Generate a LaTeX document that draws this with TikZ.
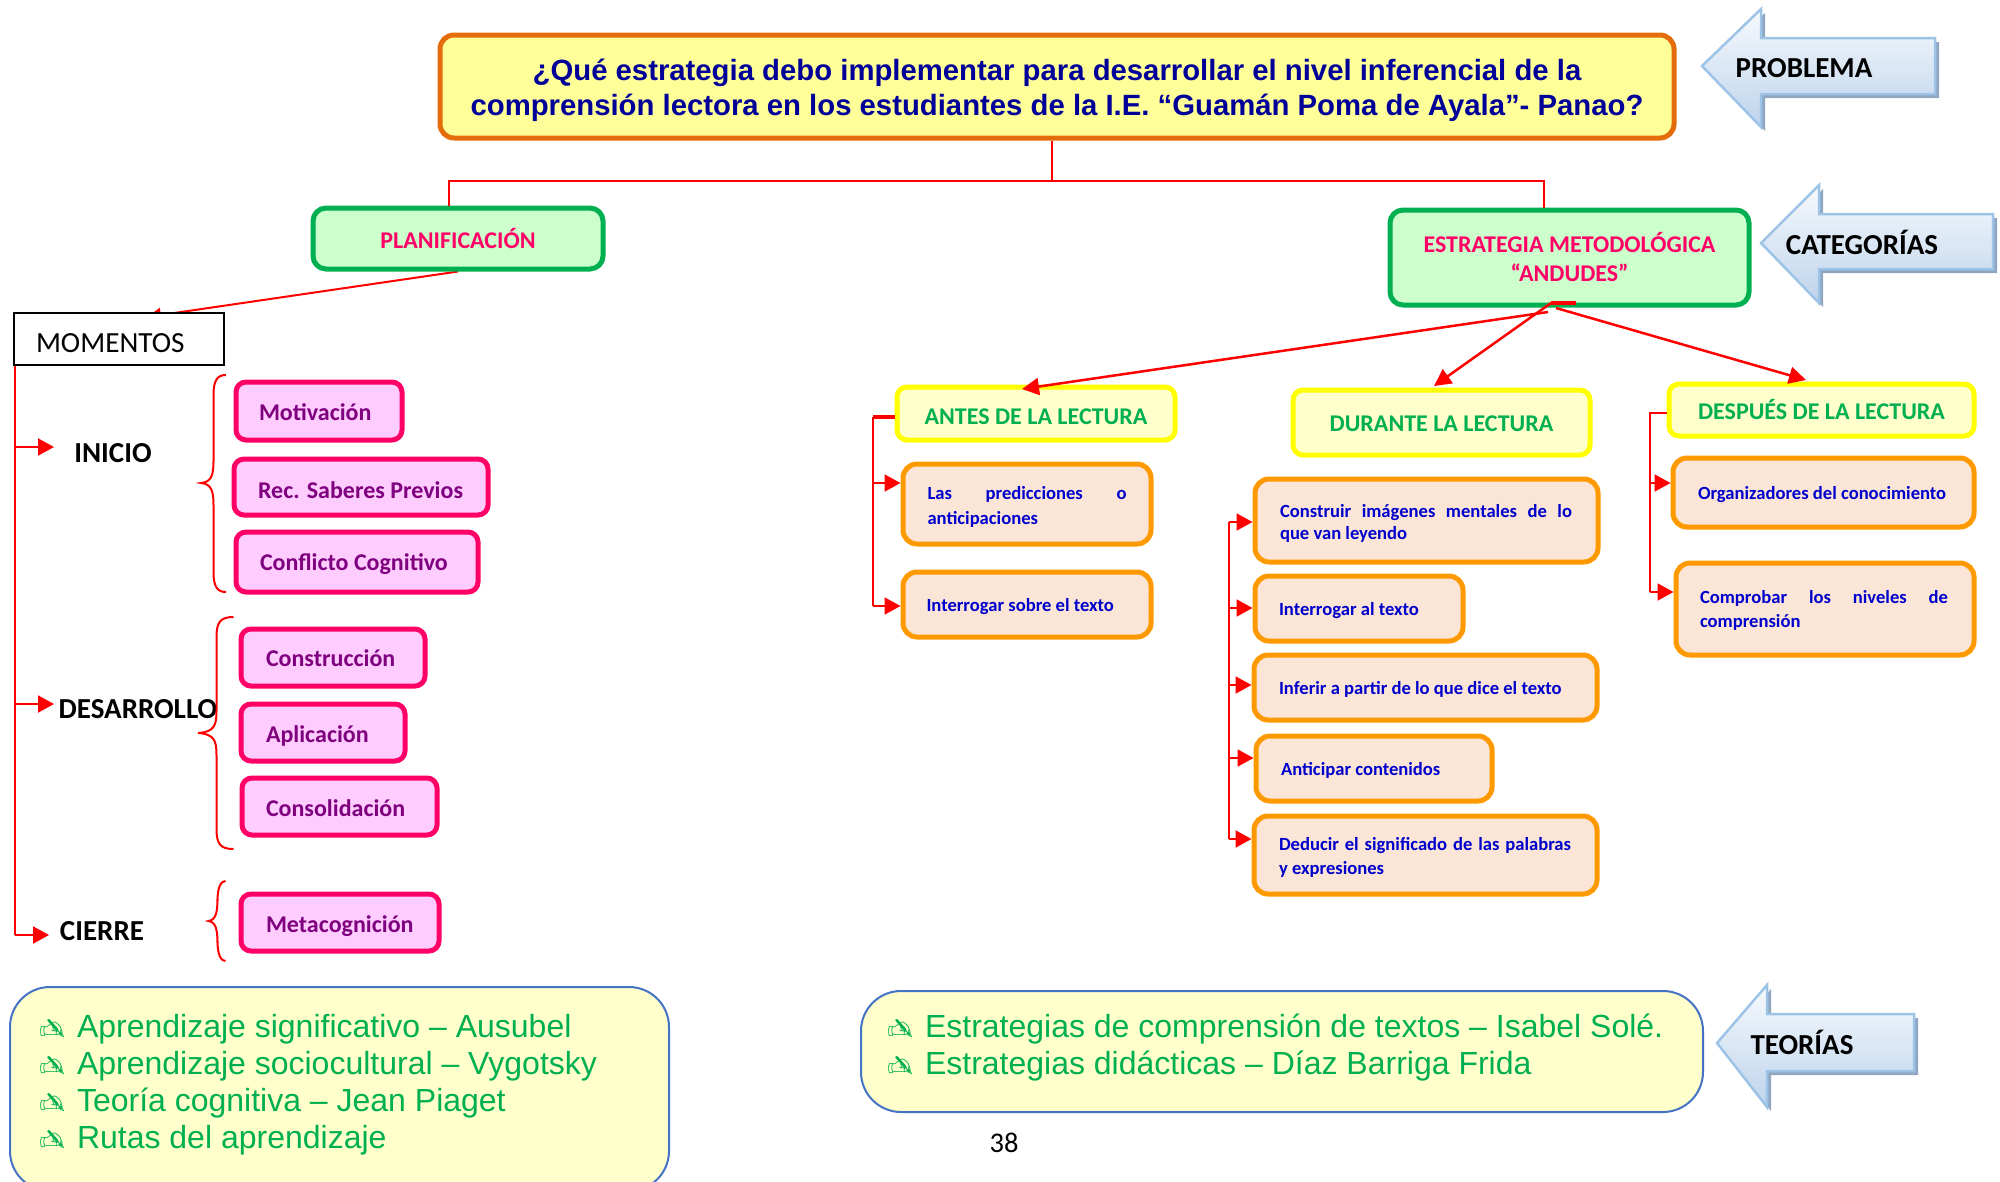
\documentclass[tikz,border=0pt]{standalone}
\usepackage{fontspec}
\setmainfont{Carlito}
\newfontfamily\arialf{Liberation Sans}
\newfontfamily\djv{DejaVu Sans}
\usetikzlibrary{arrows.meta,backgrounds}
\definecolor{titlefill}{HTML}{FFFF99}
\definecolor{titleedge}{HTML}{E46C0A}
\definecolor{titleink}{HTML}{000099}
\definecolor{greenfill}{HTML}{CCFFCC}
\definecolor{greenedge}{HTML}{00B050}
\definecolor{hotpink}{HTML}{FF0066}
\definecolor{pinkfill}{HTML}{FFCCFF}
\definecolor{purpleink}{HTML}{7F007F}
\definecolor{paleyellow}{HTML}{FFFFCC}
\definecolor{brightyellow}{HTML}{FFFF00}
\definecolor{peach}{HTML}{FBE5D6}
\definecolor{orangeedge}{HTML}{FF9900}
\definecolor{blueink}{HTML}{0000CC}
\definecolor{bluerim}{HTML}{4472C4}
\definecolor{arrowrim}{HTML}{9DC3E6}
\definecolor{arrowshadow}{HTML}{8FA7C1}
\definecolor{arrowtop}{HTML}{F7FAFD}
\definecolor{arrowbot}{HTML}{BDD3EC}
\definecolor{redline}{HTML}{FF0000}
\tikzset{
  basebox/.style={rectangle,inner sep=0pt,outer sep=2.5pt,line width=5pt},
  titlebox/.style={basebox,draw=titleedge,fill=titlefill,rounded corners=14pt,text=titleink,align=center,
    font=\arialf\bfseries\fontsize{29.3}{34.5}\selectfont},
  catbox/.style={basebox,draw=greenedge,fill=greenfill,rounded corners=13pt,text=hotpink,align=center,
    font=\bfseries\fontsize{24}{29}\selectfont},
  pinkbox/.style={basebox,draw=hotpink,fill=pinkfill,rounded corners=10pt,text=purpleink,align=left,
    font=\bfseries\fontsize{24}{28}\selectfont},
  headbox/.style={basebox,draw=brightyellow,fill=paleyellow,rounded corners=10pt,text=greenedge,align=center,
    font=\bfseries\fontsize{24}{28}\selectfont},
  stepbox/.style={basebox,draw=orangeedge,fill=peach,rounded corners=14pt,text=blueink,align=left,
    font=\bfseries\fontsize{18.6}{22}\selectfont},
  theorybox/.style={basebox,outer sep=1pt,line width=2pt,draw=bluerim,fill=paleyellow,rounded corners=40pt,text=greenedge,align=left,
    font=\arialf\fontsize{32}{37}\selectfont},
  momentbox/.style={basebox,outer sep=1pt,line width=2pt,draw=black,fill=white,align=left,font=\fontsize{29.2}{34}\selectfont},
  stagelabel/.style={inner sep=0pt,font=\bfseries\fontsize{29}{34}\selectfont,text=black},
  arrowlabel/.style={inner sep=0pt,font=\bfseries\fontsize{29}{34}\selectfont,text=black},
  pagelabel/.style={inner sep=0pt,font=\fontsize{28.5}{34}\selectfont,text=black},
  blockshade/.style={draw=arrowrim,line width=2.5pt,top color=arrowtop,bottom color=arrowbot,line join=miter},
  blockshadow/.style={fill=arrowshadow},
  redthin/.style={draw=redline,line width=2pt},
  redbar/.style={draw=redline,line width=3.5pt},
  redarrow/.style={draw=redline,line width=2pt,-{Triangle[length=16pt,width=17pt]}},
  redslant/.style={draw=redline,line width=2.5pt,-{Triangle[length=17pt,width=17pt]}},
  bracestyle/.style={draw=redline,line width=2pt},
}
% centred text box: style, name, x1, y1, x2, y2, text
\newcommand\cbx[7]{%
  \pgfmathsetmacro\bxw{#5-#3-2}\pgfmathsetmacro\bxh{#6-#4-2}%
  \pgfmathsetmacro\bxx{(#3+#5)/2}\pgfmathsetmacro\bxy{(#4+#6)/2}%
  \node[#1,minimum width=\bxw pt,minimum height=\bxh pt] (#2) at (\bxx,\bxy) {#7};}
% text box with a set text width: style, name, x1, y1, x2, y2, side pad, text
\newcommand\lbx[8]{%
  \pgfmathsetmacro\bxw{#5-#3-2}\pgfmathsetmacro\bxh{#6-#4-2}%
  \pgfmathsetmacro\bxt{#5-#3-2*#7}%
  \pgfmathsetmacro\bxx{(#3+#5)/2}\pgfmathsetmacro\bxy{(#4+#6)/2}%
  \node[#1,minimum width=\bxw pt,minimum height=\bxh pt,text width=\bxt pt] (#2) at (\bxx,\bxy) {\spaceskip=0pt\xspaceskip=0pt\relax #8};}
% a trailing negative space lowers centred text by half its amount (several lines)
\newcommand\dn[1]{\par\vspace{-#1pt}}
% single line: puts the baseline a set distance below the box centre
\newcommand\bl[1]{\rule[-8pt]{0pt}{\dimexpr #1pt*2+8pt\relax}}
\newcommand\pen{\makebox[37pt][l]{\raisebox{-3pt}{\reflectbox{\djv\fontsize{31}{31}\selectfont ✍}}}}
\newcommand\jline[2]{\hbox to #1pt{#2}}
% block arrow: tip x,y, head x, head top y, shaft top y, right x, shaft bottom y, head bottom y
\newcommand\blockarrow[8]{%
  \path[blockshadow,shift={(4,4)}] (#1,#2) -- (#3,#4) -- (#3,#5) -- (#6,#5) -- (#6,#7) -- (#3,#7) -- (#3,#8) -- cycle;
  \path[blockshade] (#1,#2) -- (#3,#4) -- (#3,#5) -- (#6,#5) -- (#6,#7) -- (#3,#7) -- (#3,#8) -- cycle;}
% curly bracket: end x, top y, spine x, tip x, tip y, bottom y
\newcommand\curly[6]{%
  \draw[bracestyle] (#1,#2) .. controls (#3+4,#2) and (#3,#2+5) .. (#3,#2+20)
    -- (#3,#5-22) .. controls (#3,#5-8) and (#3-2,#5-1) .. (#4,#5)
    .. controls (#3-2,#5+1) and (#3,#5+8) .. (#3,#5+22)
    -- (#3,#6-20) .. controls (#3,#6-5) and (#3+4,#6) .. (#1,#6);}
\begin{document}
\begin{tikzpicture}[x=1pt,y=-1pt]
\useasboundingbox (0,0) rectangle (2000,1181);
\clip (0,0) rectangle (2000,1181);

% top level
\lbx{titlebox}{title}{439}{34}{1675}{139}{10}{\mbox{¿Qué estrategia debo implementar para desarrollar el nivel inferencial de la}\\\mbox{comprensión lectora en los estudiantes de la I.E. “Guamán Poma de Ayala”- Panao?}\dn{8}}
\cbx{catbox}{plan}{312}{207}{604}{270}{PLANIFICACIÓN}
\cbx{catbox}{estr}{1389}{209}{1750}{306}{ESTRATEGIA METODOLÓGICA\\“ANDUDES”}

\coordinate (hub) at (1052,181);
\coordinate (hubL) at (449,181);
\coordinate (hubR) at (1544,181);
\draw[redthin] (hub |- title.south) -- (hub);
\draw[redthin] (hubL |- plan.north) -- (hubL) -- (hubR) -- (hubR |- estr.north);

% block arrows
\blockarrow{1702}{66}{1761}{9}{38}{1935}{94}{127}
\node[arrowlabel] (lblProblema) at (1804,68) {PROBLEMA};
\blockarrow{1761}{243}{1819}{185}{214}{1993}{269}{303}
\node[arrowlabel] (lblCategorias) at (1862,242) {CATEGORÍAS};
\blockarrow{1717}{1043}{1767}{985}{1014}{1914}{1071}{1107}
\node[arrowlabel] (lblTeorias) at (1802,1042) {TEORÍAS};

% left column
\lbx{momentbox}{momentos}{13}{312}{225}{366}{23}{\bl{17.4}MOMENTOS}
\coordinate (momTip) at (147,317);
\begin{scope}[on background layer]
  \draw[redthin,-{Triangle[length=14pt,width=14pt]}] (plan.south) -- (momTip);
\end{scope}

\node[stagelabel] (inicio) at (113,453) {INICIO};
\node[stagelabel] (desarrollo) at (138,709) {DESARROLLO};
\node[stagelabel] (cierre) at (102,931) {CIERRE};
\coordinate (stemI) at (14.5,447);
\coordinate (stemD) at (14.5,704);
\coordinate (stemC) at (14.5,935);
\draw[redthin] (momentos.south -| stemI) -- (stemC);
\draw[redarrow] (stemI) -- (54,447);
\draw[redarrow] (stemD) -- (54,704);
\draw[redarrow] (stemC) -- (49,935);

\lbx{pinkbox}{motiv}{235}{381}{403}{441}{24}{\bl{13.5}\mbox{Motivación}}
\lbx{pinkbox}{saberes}{233}{458}{489}{516}{25}{\bl{15.7}\mbox{Rec. Saberes Previos}}
\lbx{pinkbox}{conflicto}{235}{531}{479}{593}{25}{\bl{12.5}\mbox{Conflicto Cognitivo}}
\lbx{pinkbox}{constr}{240}{628}{426}{687}{26}{\bl{12.5}\mbox{Construcción}}
\lbx{pinkbox}{aplic}{240}{703}{406}{762}{26}{\bl{14.2}\mbox{Aplicación}}
\lbx{pinkbox}{consol}{241}{777}{438}{836}{25}{\bl{13.5}\mbox{Consolidación}}
\lbx{pinkbox}{metacog}{240}{893}{440}{952}{26}{\bl{14}\mbox{Metacognición}}

\curly{226}{375}{213.5}{201}{483}{592}
\curly{233.5}{617}{216.5}{198}{733}{849}
\curly{225.5}{881}{217.5}{208.5}{921}{961}

% reading heads
\lbx{headbox}{antes}{896}{386}{1176}{441}{5}{\bl{15}\mbox{ANTES DE LA LECTURA}}
\lbx{headbox}{durante}{1292}{389}{1591}{456}{5}{\bl{13.2}\mbox{DURANTE LA LECTURA}}
\lbx{headbox}{despues}{1668}{383}{1975}{437}{5}{\bl{13.5}\mbox{DESPUÉS DE LA LECTURA}}

\coordinate (barL) at (1551,303);
\coordinate (barR) at (1576,303);
\coordinate (fromA) at (1548,312);
\coordinate (fromC) at (1556,308);
\coordinate (tipA) at (1022,389);
\coordinate (tipB) at (1434,386);
\coordinate (tipC) at (1806,380);
\draw[redbar] (barL) -- (barR);
\draw[redslant] (fromA) -- (tipA);
\draw[redslant] (barL) -- (tipB);
\draw[redslant] (fromC) -- (tipC);

% steps
\lbx{stepbox}{pred}{902}{463}{1152}{545}{25.5}{\jline{199}{Las\hfill predicciones\hfill o}\\[3pt]\mbox{anticipaciones}\dn{5}}
\lbx{stepbox}{intsobre}{902}{571}{1152}{638}{24.5}{\mbox{Interrogar sobre el texto}\dn{5}}
\lbx{stepbox}{imag}{1254}{478}{1599}{563}{26}{\jline{292}{Construir\hfill imágenes\hfill mentales\hfill de\hfill lo}\\\mbox{que van leyendo}\dn{5}}
\lbx{stepbox}{intal}{1254}{575}{1464}{642}{25}{\mbox{Interrogar al texto}\dn{5}}
\lbx{stepbox}{inferir}{1253}{654}{1598}{721}{26}{\mbox{Inferir a partir de lo que dice el texto}\dn{5}}
\lbx{stepbox}{anticip}{1255}{735}{1493}{802}{26}{\mbox{Anticipar contenidos}\dn{5}}
\lbx{stepbox}{deducir}{1253}{815}{1598}{895}{26}{\jline{292}{Deducir\hfill el\hfill significado\hfill de\hfill las\hfill palabras}\\[2pt]\mbox{y expresiones}\dn{5}}
\lbx{stepbox}{organiz}{1672}{457}{1975}{528}{26}{\mbox{Organizadores del conocimiento}\dn{5}}
\lbx{stepbox}{comprob}{1675}{562}{1975}{656}{25}{\jline{248}{Comprobar\hfill los\hfill niveles\hfill de}\\[2pt]\mbox{comprensión}\dn{3}}

% bracket: antes
\coordinate (spA0) at (873,417);
\coordinate (spA1) at (873,483);
\coordinate (spA2) at (873,606);
\draw[redbar] (antes.west |- spA0) -- (spA0);
\draw[redthin] (spA0) -- (spA2);
\draw[redarrow] (spA1) -- (spA1 -| pred.west);
\draw[redarrow] (spA2) -- (spA2 -| intsobre.west);

% bracket: durante
\coordinate (spD1) at (1229,522);
\coordinate (spD2) at (1229,608);
\coordinate (spD3) at (1229,685);
\coordinate (spD4) at (1229,758);
\coordinate (spD5) at (1229,839);
\draw[redthin] (spD1) -- (spD5);
\draw[redarrow] (spD1) -- (spD1 -| imag.west);
\draw[redarrow] (spD2) -- (spD2 -| intal.west);
\draw[redarrow] (spD3) -- (spD3 -| inferir.west);
\draw[redarrow] (spD4) -- (spD4 -| anticip.west);
\draw[redarrow] (spD5) -- (spD5 -| deducir.west);

% bracket: despues
\coordinate (spE0) at (1650,413);
\coordinate (spE1) at (1650,483);
\coordinate (spE2) at (1650,592);
\draw[redthin] (despues.west |- spE0) -- (spE0) -- (spE2);
\draw[redarrow] (spE1) -- (spE1 -| organiz.west);
\draw[redarrow] (spE2) -- (spE2 -| comprob.west);

% theories
\lbx{theorybox}{teoriaL}{9}{986}{670}{1192}{31}{\pen Aprendizaje significativo – Ausubel\\\pen Aprendizaje sociocultural – Vygotsky\\\pen Teoría cognitiva – Jean Piaget\\\pen Rutas del aprendizaje\par\vspace{8pt}}
\lbx{theorybox}{teoriaR}{860}{990}{1704}{1113}{28}{\pen Estrategias de comprensión de textos – Isabel Solé.\\\pen Estrategias didácticas – Díaz Barriga Frida\par\vspace{8pt}}

\node[pagelabel] (pagenum) at (1004,1143) {38};
\end{tikzpicture}
\end{document}
